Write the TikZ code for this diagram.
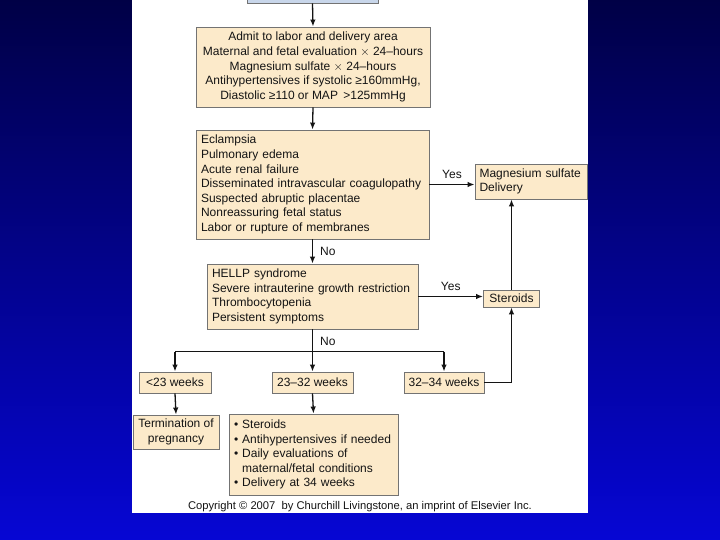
\documentclass[tikz,border=0pt]{standalone}
\usepackage{fontspec}
\setmainfont{Liberation Sans}
\usetikzlibrary{arrows.meta}
\definecolor{bgtop}{RGB}{0,0,70}
\definecolor{bgbot}{RGB}{6,6,212}
\definecolor{boxfill}{RGB}{252,234,202}
\definecolor{boxline}{RGB}{115,115,115}
\definecolor{topfill}{RGB}{200,214,234}
\definecolor{ink}{RGB}{20,20,20}
\begin{document}
\begin{tikzpicture}[x=1pt,y=-1pt,
  fbox/.style={draw=boxline, fill=boxfill, line width=0.9pt, inner sep=0pt,
    font=\fontsize{12}{14.6}\selectfont, text=ink},
  lbl/.style={font=\fontsize{12}{14.6}\selectfont, text=ink, inner sep=0pt},
  arr/.style={-{Latex[length=7pt,width=5.5pt]}, line width=1.3pt, draw=ink},
  ln/.style={line width=1.3pt, draw=ink}]
\useasboundingbox (0,0) rectangle (720,540);
\shade[top color=bgtop, bottom color=bgbot] (0,0) rectangle (720,540);
\fill[white] (132,0) rectangle (588,513);

\node[draw=boxline, fill=topfill, line width=0.9pt, minimum width=131pt, minimum height=30pt, inner sep=0pt] (top) at (312.5,-12) {};

\node[fbox, minimum width=234pt, minimum height=80pt, align=center] (b1) at (313,67)
 {Admit to labor and delivery area\\
  Maternal and fetal evaluation $\times$ 24--hours\\
  Magnesium sulfate $\times$ 24--hours\\
  Antihypertensives if systolic ≥160mmHg,\\
  Diastolic ≥110 or MAP \,>125mmHg};

\node[fbox, minimum width=233pt, minimum height=109pt, text width=223pt, align=left] (b2) at (312.5,184.5)
 {Eclampsia\\
  Pulmonary edema\\
  Acute renal failure\\
  Disseminated intravascular coagulopathy\\
  Suspected abruptic placentae\\
  Nonreassuring fetal status\\
  Labor or rupture of membranes};

\node[fbox, minimum width=112pt, minimum height=35pt, text width=103pt, align=left] (mag) at (531,181.5)
 {Magnesium sulfate\\ Delivery};

\node[fbox, minimum width=211pt, minimum height=65pt, text width=201pt, align=left] (b3) at (312.5,296.5)
 {HELLP syndrome\\
  Severe intrauterine growth restriction\\
  Thrombocytopenia\\
  Persistent symptoms};

\node[fbox, minimum width=56pt, minimum height=17pt] (ster) at (511.5,298.5) {Steroids};

\node[fbox, minimum width=72pt, minimum height=21pt] (wa) at (175,382.5) {<23 weeks};
\node[fbox, minimum width=81pt, minimum height=21pt] (wb) at (312.5,382.5) {23--32 weeks};
\node[fbox, minimum width=80pt, minimum height=21pt] (wc) at (444,382.5) {32--34 weeks};

\node[fbox, minimum width=86pt, minimum height=34pt, align=center] (term) at (176,432)
 {Termination of\\ pregnancy};

\node[fbox, minimum width=169pt, minimum height=81pt, text width=159pt, align=left] (bul) at (313.5,454.5)
 {• Steroids\\
  • Antihypertensives if needed\\
  • Daily evaluations of\\
  \phantom{• }maternal/fetal conditions\\
  • Delivery at 34 weeks};

\node[font=\fontsize{11.2}{12}\selectfont, text=ink, inner sep=0pt] (copy) at (360,507)
 {Copyright © 2007 \ by Churchill Livingstone, an imprint of Elsevier Inc.};

% connectors
\draw[arr] (top.south) -- (b1.north);
\draw[arr] (b1.south) -- (b2.north);
\draw[arr] (b2.south) -- node[lbl, right=7pt, pos=0.5] {No} (b3.north);
\draw[arr] (b2.east) -- node[lbl, above=5pt] {Yes} (mag.west |- b2.east);
\draw[arr] (b3.east) -- node[lbl, above=5pt] {Yes} (ster.west |- b3.east);
\draw[arr] (ster.north) -- (ster.north |- mag.south);

\coordinate (j) at (312.5,351.5);
\draw[arr] (b3.south) -- node[lbl, right=7pt, pos=0.28] {No} (wb.north);
\draw[ln] (wa.north |- j) -- (wc.north |- j);
\draw[arr] (wa.north |- j) -- (wa.north);
\draw[arr] (wc.north |- j) -- (wc.north);
\draw[arr] (wc.east) -| (ster.south);
\draw[arr] (wa.south) -- (term.north);
\draw[arr] (wb.south) -- (bul.north);
\end{tikzpicture}
\end{document}
